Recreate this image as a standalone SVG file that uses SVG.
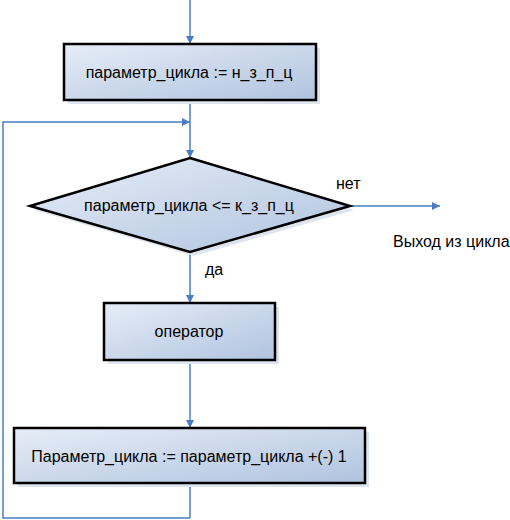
<svg xmlns="http://www.w3.org/2000/svg" width="510" height="520" viewBox="0 0 510 520">
<defs>
<linearGradient id="g" x1="0" y1="0" x2="1" y2="1">
<stop offset="0" stop-color="#e6edf7"/>
<stop offset="1" stop-color="#b0c3df"/>
</linearGradient>
<marker id="a" viewBox="0 0 10 10" refX="10" refY="5" markerWidth="8" markerHeight="8" markerUnits="userSpaceOnUse" orient="auto">
<path d="M0,0 L10,5 L0,10 z" fill="#4a7ec2"/>
</marker>
<style>
.sh{fill:#dfe5ee}
.n{fill:url(#g);stroke:#000;stroke-width:2.5}
.c{fill:none;stroke:#4a7ec2;stroke-width:1.5}
text{font-family:"Liberation Sans",Arial,sans-serif;font-size:16px;fill:#000}
</style>
</defs>
<g id="connectors">
<path class="c" d="M190,0 V44" marker-end="url(#a)"/>
<path class="c" d="M190,100 V158" marker-end="url(#a)"/>
<path class="c" d="M190,518 V483"/>
<path class="c" d="M190,518 H3 V122 H190" marker-end="url(#a)"/>
<path class="c" d="M190,252 V303" marker-end="url(#a)"/>
<path class="c" d="M190,360 V428" marker-end="url(#a)"/>
<path class="c" d="M350,206 H440" marker-end="url(#a)"/>
<text x="336" y="189">нет</text>
<text x="205" y="275">да</text>
<text x="393" y="247">Выход из цикла</text>
</g>
<g id="init">
<rect class="sh" x="68" y="48" width="252" height="56"/>
<rect class="n" x="64" y="44" width="252" height="56"/>
<text x="189" y="78" text-anchor="middle">параметр_цикла := н_з_п_ц</text>
</g>
<g id="cond">
<polygon class="sh" points="194,162 354,210 194,256 34,210"/>
<polygon class="n" points="190,158 350,206 190,252 30,206"/>
<text x="189" y="211" text-anchor="middle">параметр_цикла &lt;= к_з_п_ц</text>
</g>
<g id="op">
<rect class="sh" x="108" y="307" width="171" height="57"/>
<rect class="n" x="104" y="303" width="171" height="57"/>
<text x="189" y="337" text-anchor="middle">оператор</text>
</g>
<g id="step">
<rect class="sh" x="18" y="432" width="351" height="55"/>
<rect class="n" x="14" y="428" width="351" height="55"/>
<text x="189" y="462" text-anchor="middle">Параметр_цикла := параметр_цикла +(-) 1</text>
</g>
</svg>
